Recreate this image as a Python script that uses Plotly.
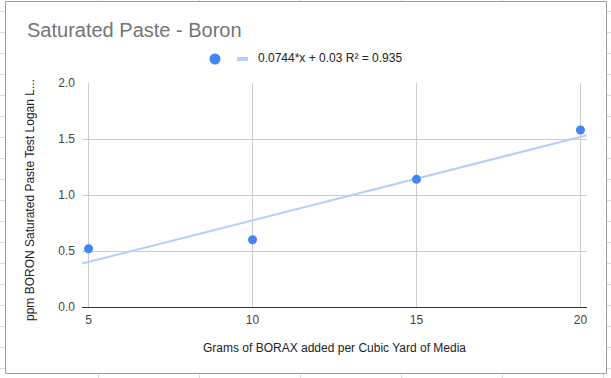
import plotly.graph_objects as go

# ---- data ----
x_grams = [5, 10, 15, 20]
y_ppm = [0.52, 0.60, 1.14, 1.58]
trend_slope = 0.0744
trend_intercept = 0.03
x_ticks = [5, 10, 15, 20]
x_ticklabels = ["5", "10", "15", "20"]
y_ticks = [0, 0.5, 1.0, 1.5, 2.0]
y_ticklabels = ["0.0", "0.5", "1.0", "1.5", "2.0"]
title_text = "Saturated Paste - Boron"
legend_text = "0.0744*x + 0.03 R² = 0.935"
x_title = "Grams of BORAX added per Cubic Yard of Media"
y_title = "ppm BORON Saturated Paste Test Logan L..."

x_range = [4.8, 20.2]
y_range = [0, 2.0]
trend_x = list(x_range)
trend_y = [trend_slope * v + trend_intercept for v in trend_x]

# ---- layout geometry (pixels) ----
W, H = 611, 378
L, R, T, B = 82, 24, 83, 71
PW, PH = W - L - R, H - T - B


def fx(px):
    return (px - L) / PW


def fy(py):
    return (T + PH - py) / PH


BLUE = "#4285f4"
LIGHT = "#b3cefa"
FONT = "Liberation Sans"

fig = go.Figure()
fig.add_trace(go.Scatter(x=trend_x, y=trend_y, mode="lines",
                         line=dict(color=LIGHT, width=2),
                         hoverinfo="skip", showlegend=False))
fig.add_trace(go.Scatter(x=x_grams, y=y_ppm, mode="markers",
                         marker=dict(color=BLUE, size=9),
                         cliponaxis=False, showlegend=False))

shapes = []
# spreadsheet cell grid behind the chart
for k in range(18):
    yy = 11 + 21 * k + 0.5
    shapes.append(dict(type="line", xref="paper", yref="paper", layer="below",
                       x0=fx(0), x1=fx(W), y0=fy(yy), y1=fy(yy),
                       line=dict(color="#dadada", width=1)))
for xx in [98, 199, 300, 401, 502, 603]:
    shapes.append(dict(type="line", xref="paper", yref="paper", layer="below",
                       x0=fx(xx + 0.5), x1=fx(xx + 0.5), y0=fy(0), y1=fy(H),
                       line=dict(color="#dadada", width=1)))
# chart frame
shapes.append(dict(type="rect", xref="paper", yref="paper", layer="below",
                   x0=fx(5.5), x1=fx(606.5), y0=fy(373.5), y1=fy(1.5),
                   fillcolor="white", line=dict(color="#9e9e9e", width=1)))
# legend symbols
shapes.append(dict(type="circle", xref="paper", yref="paper", layer="above",
                   x0=fx(209.5), x1=fx(220.5), y0=fy(64.5), y1=fy(53.5),
                   fillcolor=BLUE, line=dict(width=0)))
shapes.append(dict(type="rect", xref="paper", yref="paper", layer="above",
                   x0=fx(237), x1=fx(248), y0=fy(61), y1=fy(57),
                   fillcolor=LIGHT, line=dict(width=0)))

annotations = [
    dict(text=title_text, xref="paper", yref="paper", x=fx(25), y=fy(30),
         xanchor="left", yanchor="middle", showarrow=False,
         font=dict(family=FONT, size=20, color="#757575")),
    dict(text=legend_text, xref="paper", yref="paper", x=fx(256), y=fy(58.3),
         xanchor="left", yanchor="middle", showarrow=False,
         font=dict(family=FONT, size=12, color="#222222")),
    dict(text=x_title, xref="paper", yref="paper", x=fx(334.5), y=fy(347.7),
         xanchor="center", yanchor="middle", showarrow=False,
         font=dict(family=FONT, size=12, color="#222222")),
    dict(text=y_title, xref="paper", yref="paper", x=fx(30), y=fy(200),
         xanchor="center", yanchor="middle", showarrow=False, textangle=-90,
         font=dict(family=FONT, size=12, color="#222222")),
]

fig.update_layout(
    width=W, height=H,
    margin=dict(l=L, r=R, t=T, b=B, pad=0),
    paper_bgcolor="white", plot_bgcolor="rgba(0,0,0,0)",
    showlegend=False,
    font=dict(family=FONT, size=12, color="#444444"),
    shapes=shapes, annotations=annotations,
    xaxis=dict(range=x_range, tickmode="array", tickvals=x_ticks, ticktext=x_ticklabels,
               showgrid=True, gridcolor="#cccccc", gridwidth=1, zeroline=False,
               showline=True, linecolor="#333333", linewidth=1, ticks="",
               ticklabelstandoff=2,
               tickfont=dict(family=FONT, size=12, color="#444444")),
    yaxis=dict(range=y_range, tickmode="array", tickvals=y_ticks, ticktext=y_ticklabels,
               showgrid=True, gridcolor="#cccccc", gridwidth=1, zeroline=False,
               showline=False, ticks="", ticklabelstandoff=6,
               tickfont=dict(family=FONT, size=12, color="#444444")),
)

fig.write_html("out.html", config={"displayModeBar": False},
               post_script="document.body.style.margin='0';document.body.style.padding='0';")
